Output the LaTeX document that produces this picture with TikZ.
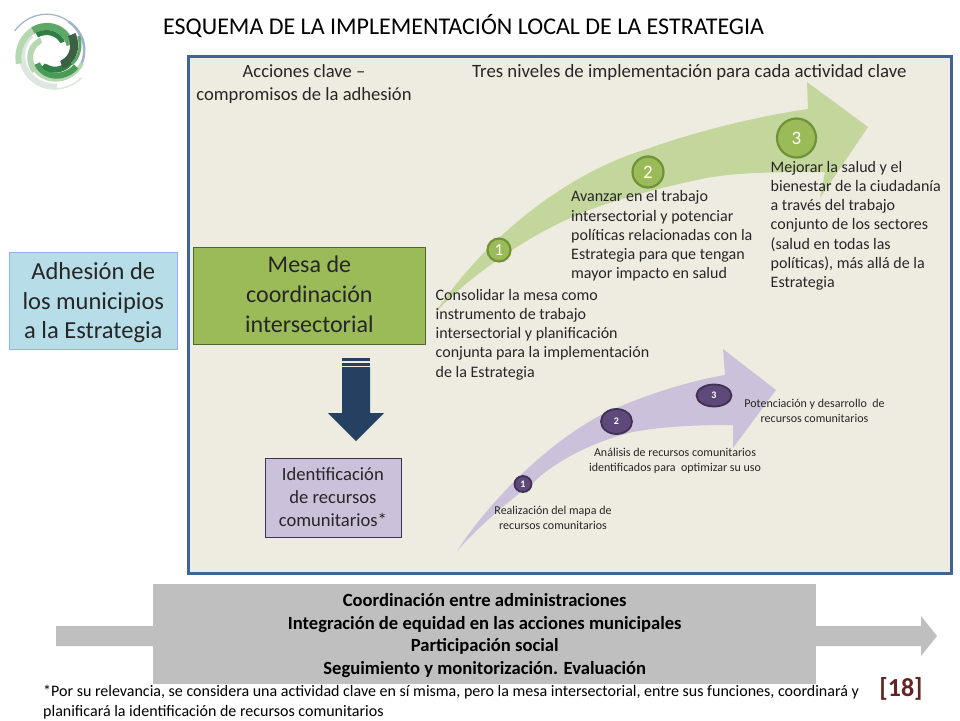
\documentclass[tikz,border=0pt]{standalone}
\usepackage{fontspec}
\setmainfont{Carlito}
\usetikzlibrary{shapes.geometric}
\definecolor{panelfill}{HTML}{EEECE1}
\definecolor{panelline}{HTML}{3F6597}
\definecolor{greenbox}{HTML}{9BBB59}
\definecolor{greenarrow}{HTML}{C3D69B}
\definecolor{greenring}{HTML}{6F9239}
\definecolor{purplearrow}{HTML}{CCC1DA}
\definecolor{purplecirc}{HTML}{5F497A}
\definecolor{purplering}{HTML}{3F3151}
\definecolor{lightblue}{HTML}{B7DDE8}
\definecolor{navy}{HTML}{254061}
\definecolor{graybar}{HTML}{BFBFBF}
\definecolor{inktext}{HTML}{262626}
\definecolor{refred}{HTML}{632523}
\definecolor{lgA}{HTML}{2F7F45}
\definecolor{lgB}{HTML}{5DA768}
\definecolor{lgC}{HTML}{B5D8B0}
\definecolor{lgD}{HTML}{3F5F45}
\definecolor{lgE}{HTML}{9DB4CC}
\definecolor{lgF}{HTML}{DDE6DF}
\definecolor{lgG}{HTML}{4C9A58}
\tikzset{
  lab/.style={font=\fontsize{#1}{#1}\selectfont, inner sep=0pt, text=inktext},
  bigbox/.style={draw=#1, line width=0.8pt, inner sep=0pt, align=center},
  gcirc/.style={circle, fill=greenbox, draw=greenring, line width=2.2pt, text=white, inner sep=0pt},
  pcirc/.style={ellipse, fill=purplecirc, draw=purplering, line width=1.8pt, text=white, inner sep=0pt},
}
\newcommand{\logoarc}[6]{%
  \draw[color=#6, line width=#5pt] plot[smooth, domain=#1:#2, samples=30]
    ({51+(#3+(#4-#3)*(\x-#1)/(#2-#1))*cos(\x)},{52-(#3+(#4-#3)*(\x-#1)/(#2-#1))*sin(\x)});
}
\begin{document}
\begin{tikzpicture}[x=1pt,y=-1pt]
\useasboundingbox[fill=white] (0,0) rectangle (960,720);
% logo
\logoarc{30}{150}{33}{42}{1.2}{lgE}
\logoarc{-40}{60}{32}{35}{2.5}{lgE}
\logoarc{170}{320}{30}{40}{1.5}{lgF}
\logoarc{140}{280}{26}{35}{6}{lgF}
\logoarc{90}{200}{24}{34}{6}{lgC}
\logoarc{230}{340}{24}{33}{4}{lgC}
\logoarc{30}{170}{22}{31}{6}{lgC}
\logoarc{20}{130}{20}{28}{7}{lgB}
\logoarc{130}{230}{15}{25}{6}{lgC}
\logoarc{220}{330}{18}{29}{6}{lgG}
\logoarc{240}{350}{15}{23}{6}{lgA}
\logoarc{-50}{40}{16}{27}{8}{lgD}
\logoarc{-30}{30}{24}{32}{3}{lgB}
\logoarc{40}{130}{15}{22}{5}{lgA}
\fill[white] (51,52) circle[radius=13];
% title
\node[inner sep=0pt, text=black, anchor=west, font=\fontsize{24}{24}\selectfont] (title) at (163,26) {ESQUEMA DE LA IMPLEMENTACIÓN LOCAL DE LA ESTRATEGIA};
% panel
\node[draw=panelline, fill=panelfill, line width=3pt, minimum width=763pt, minimum height=517pt, inner sep=0pt, anchor=north west] (panel) at (187,55) {};
\node[inner sep=0pt, text=inktext, align=center, anchor=north, font=\fontsize{18.6}{23}\selectfont] (acciones) at (304,64.5) {Acciones clave --\\compromisos de la adhesión};
\node[lab=18.8, anchor=west] (niveles) at (472,72.5) {Tres niveles de implementación para cada actividad clave};
% green arrow
\fill[greenarrow] (435,313)
  .. controls (480,245) and (560,175) .. (647,149)
  .. controls (700,130) and (760,116) .. (808,109)
  -- (807,82) -- (868,127) -- (820,198) -- (825,172)
  .. controls (780,172) and (730,172) .. (697,180)
  .. controls (640,192) and (590,208) .. (573,217)
  .. controls (530,235) and (470,275) .. (435,313) -- cycle;
% purple arrow
\fill[purplearrow] (457,551)
  .. controls (490,500) and (550,440) .. (607,412)
  .. controls (650,393) and (690,381) .. (725,375)
  -- (723,349) -- (776,390) -- (733,448) -- (733,425)
  .. controls (700,425) and (665,426) .. (633,432)
  .. controls (590,442) and (550,465) .. (533,483)
  .. controls (510,500) and (480,525) .. (457,551) -- cycle;
% boxes
\node[bigbox=greenring!70!black, fill=greenbox, minimum width=232pt, minimum height=97pt, anchor=north west, font=\fontsize{24}{30}\selectfont, text=inktext] (mesa) at (193,247) {Mesa de\\coordinación\\intersectorial\rule[-4pt]{0pt}{4pt}};
\node[draw=lightblue!80!blue, line width=0.6pt, fill=lightblue, minimum width=168pt, minimum height=97pt, anchor=north west, inner sep=0pt, align=center, text=inktext, font=\fontsize{24.5}{29.3}\selectfont] (adhesion) at (9,252) {\rule{0pt}{21pt}Adhesión de\\los municipios\\a la Estrategia};
\node[bigbox=purplering, fill=purplearrow, minimum width=136pt, minimum height=79pt, anchor=north west, text=inktext, font=\fontsize{18.6}{23}\selectfont] (recursos) at (264.5,458) {Identificación\\de recursos\\comunitarios*\rule[-2pt]{0pt}{2pt}};
% dark arrow
\fill[navy] (342,358) rectangle (370,361);
\fill[navy] (342,363) rectangle (370,366);
\fill[navy] (342,367) -- (370,367) -- (370,413) -- (384,413) -- (356,441) -- (328,413) -- (342,413) -- cycle;
% green circles
\node[gcirc, minimum size=23pt, font=\fontsize{17}{17}\selectfont] (g1) at (499,250) {1};
\node[gcirc, minimum size=31pt, font=\fontsize{19}{19}\selectfont] (g2) at (648,172) {2};
\node[gcirc, minimum size=39pt, font=\fontsize{19}{19}\selectfont] (g3) at (796.5,138) {3};
% purple circles
\node[pcirc, minimum width=17pt, minimum height=16pt, font=\bfseries\fontsize{10}{10}\selectfont] (p1) at (523,484) {1};
\node[pcirc, minimum width=31pt, minimum height=25pt, font=\bfseries\fontsize{10}{10}\selectfont] (p2) at (616.5,421.5) {2};
\node[pcirc, minimum width=35pt, minimum height=22pt, font=\bfseries\fontsize{10}{10}\selectfont] (p3) at (714,395.5) {3};
% green texts
\tikzset{gtext/.style={align=left, anchor=north west, inner sep=0pt, text=inktext, font=\fontsize{16}{19.2}\selectfont}}
\node[gtext] (t1) at (435.5,289) {Consolidar la mesa como\\instrumento de trabajo\\intersectorial y planificación\\conjunta para la implementación\\de la Estrategia};
\node[gtext] (t2) at (571,190.5) {Avanzar en el trabajo\\intersectorial y potenciar\\políticas relacionadas con la\\Estrategia para que tengan\\mayor impacto en salud};
\node[gtext] (t3) at (770.5,161) {Mejorar la salud y el\\bienestar de la ciudadanía\\a través del trabajo\\conjunto de los sectores\\(salud en todas las\\políticas), más allá de la\\Estrategia};
% purple texts
\tikzset{ptext/.style={align=center, inner sep=0pt, text=inktext, font=\fontsize{12}{15}\selectfont}}
\node[ptext] (q1) at (553,517.5) {Realización del mapa de\\recursos comunitarios};
\node[ptext] (q2) at (675,460.5) {Análisis de recursos comunitarios\\identificados para\ \ optimizar su uso};
\node[ptext] (q3) at (814.5,411) {Potenciación y desarrollo\ \ de\\recursos comunitarios};
% bottom arrow
\fill[graybar] (56,626) -- (921,626) -- (921,616) -- (937,636) -- (921,656) -- (921,646) -- (56,646) -- cycle;
\node[fill=graybar, minimum width=663pt, minimum height=100pt, inner sep=0pt, anchor=north west, align=center, text=black, font=\bfseries\fontsize{18.6}{22.7}\selectfont] (transv) at (153,584) {\rule{0pt}{15.5pt}Coordinación entre administraciones\\Integración de equidad en las acciones municipales\\Participación social\\Seguimiento y monitorización. Evaluación};
% footnote
\node[anchor=north west, align=left, inner sep=0pt, text=black, font=\fontsize{16}{19.5}\selectfont] (nota) at (43,685) {*Por su relevancia, se considera una actividad clave en sí misma, pero la mesa intersectorial, entre sus funciones, coordinará y\\planificará la identificación de recursos comunitarios};
\node[inner sep=0pt, text=refred, font=\bfseries\fontsize{26}{26}\selectfont] (ref) at (901,689) {[18]};
\end{tikzpicture}
\end{document}
